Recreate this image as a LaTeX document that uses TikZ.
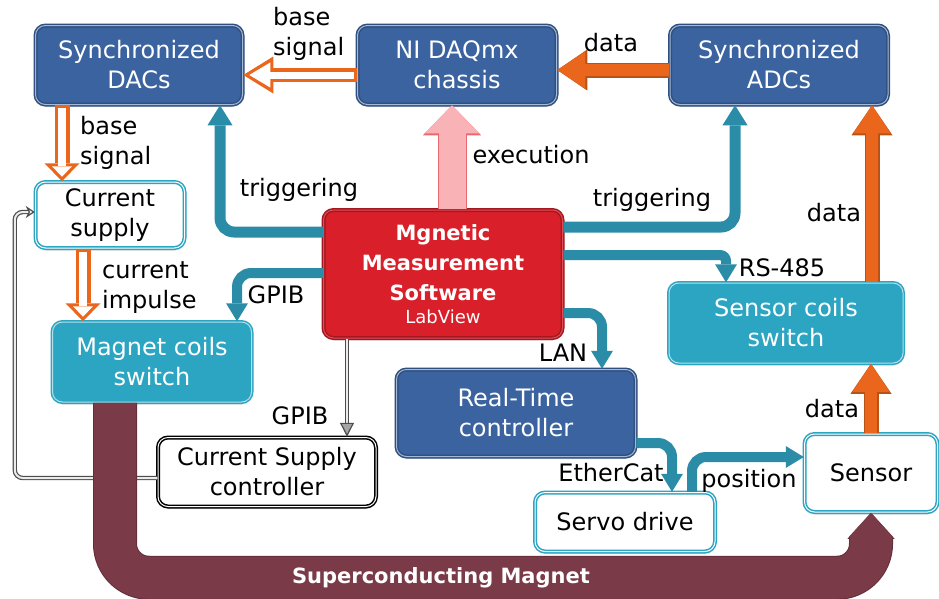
\documentclass[tikz,border=0pt]{standalone}
\usepackage{fontspec}
\setmainfont{DejaVu Sans}
\usetikzlibrary{arrows.meta,positioning,shadows,calc}
\definecolor{dacblue}{HTML}{3A63A0}
\definecolor{coilteal}{HTML}{2CA5C2}
\definecolor{lineteal}{HTML}{2A8CA6}
\definecolor{softred}{HTML}{D9202A}
\definecolor{arroworange}{HTML}{E9661C}
\definecolor{magnetred}{HTML}{7B3A48}
\definecolor{execpink}{HTML}{F9B2B5}
\tikzstyle{every node}=[font=\fontsize{24}{30}\selectfont,align=center,inner sep=0pt]
\tikzstyle{box}=[rectangle,rounded corners=10pt,line width=1.5pt,double distance=1pt,drop shadow={shadow xshift=0pt,shadow yshift=-2.5pt,opacity=0.25}]
\tikzstyle{bluebox}=[box,fill=dacblue,draw=dacblue!80!black,double=dacblue!45!white,text=white]
\tikzstyle{coilbox}=[box,fill=coilteal,draw=coilteal,double=coilteal!35!white,text=white]
\tikzstyle{whitebox}=[box,fill=white,draw=coilteal,double=white]
\tikzstyle{blackbox}=[box,fill=white,draw=black,double=white]
\tikzstyle{softbox}=[box,fill=softred,draw=softred!75!black,double=softred!80!white,text=white,font=\bfseries\fontsize{21}{30}\selectfont]
\tikzstyle{link}=[draw=lineteal,line width=10pt,rounded corners=14pt,-{Triangle[width=22pt,length=18pt,line width=0pt]}]
\tikzstyle{trigger}=[link,line width=11pt,-{Triangle[width=25pt,length=20pt,line width=0pt]}]
\tikzstyle{dataarrow}=[draw=arroworange,line width=12pt,-{Triangle[width=37pt,length=28pt,line width=0pt]},preaction={draw=arroworange!80!black,line width=15pt,-{Triangle[width=41pt,length=30pt,line width=0pt]}}]
\tikzstyle{hollowarrow}=[draw=arroworange,line width=14pt,-{Triangle[width=37pt,length=30pt,line width=0pt]},postaction={draw=white,line width=7pt,shorten <=3pt,shorten >=6pt,-{Triangle[width=25pt,length=21pt,line width=0pt]}}]
\tikzstyle{hollowdown}=[draw=arroworange,line width=15pt,-{Triangle[width=35pt,length=18pt,line width=0pt]},postaction={draw=white,line width=8pt,shorten <=3pt,shorten >=4.5pt,-{Triangle[width=20pt,length=10.5pt,line width=0pt]}}]
\tikzstyle{execarrow}=[draw=execpink,line width=27pt,-{Triangle[width=54pt,length=28pt,line width=0pt]},preaction={draw=softred!50!execpink,line width=29pt,-{Triangle[width=58pt,length=30pt,line width=0pt]}}]
\tikzstyle{thinarrow}=[draw=black!70,double=black!8,double distance=2pt,line width=1.2pt]
\tikzstyle{magnetband}=[draw=magnetred,line width=42pt,rounded corners=34pt,-{Triangle[width=44pt,length=24pt,line width=0pt]},preaction={draw=magnetred!80!black,line width=44pt,-{Triangle[width=47pt,length=26pt,line width=0pt]}}]

\begin{document}
\begin{tikzpicture}[x=1pt,y=-1pt]
\useasboundingbox (0,0) rectangle (939,598);

% boxes
\node[bluebox,minimum width=207pt,minimum height=79pt] (dacs) at (139,65) {Synchronized\\DACs};
\node[bluebox,minimum width=199pt,minimum height=79pt] (daq) at (457,65) {NI DAQmx\\chassis};
\node[bluebox,minimum width=218pt,minimum height=79pt] (adcs) at (779,65) {Synchronized\\ADCs};
\node[whitebox,minimum width=149pt,minimum height=66pt] (cs) at (110,215) {Current\\supply};
\node[coilbox,minimum width=199pt,minimum height=80pt] (mcs) at (152,362) {Magnet coils\\switch};
\node[softbox,minimum width=239pt,minimum height=128pt] (soft) at (443,274) {Mgnetic\\Measurement\\Software\\[-7pt]{\mdseries\fontsize{18}{22}\selectfont LabView}};
\node[coilbox,minimum width=234pt,minimum height=80pt] (scs) at (786,323) {Sensor coils\\switch};
\node[bluebox,minimum width=239pt,minimum height=87pt] (rt) at (516,413) {Real-Time\\controller};
\node[blackbox,minimum width=218pt,minimum height=69pt] (csc) at (267,472) {Current Supply\\controller};
\node[whitebox,minimum width=180pt,minimum height=59pt] (servo) at (625,522) {Servo drive};
\node[whitebox,minimum width=133pt,minimum height=78pt] (sensor) at (871,473) {Sensor};

% teal links
\draw[trigger] ([yshift=42pt]soft.west) -| ([xshift=81pt]dacs.south);
\draw[trigger] ([yshift=47pt]soft.east) -| ([xshift=-44pt]adcs.south);
\draw[link] ([yshift=1pt]soft.west) -| ([xshift=85pt]mcs.north);
\draw[link,rounded corners=6pt] ([yshift=19pt]soft.east) -| ([xshift=-60pt]scs.north);
\draw[link] ([yshift=-39pt]soft.east) -| ([xshift=86pt]rt.north);
\draw[link] ([yshift=-30pt]rt.east) -| ([xshift=47pt]servo.north);
\draw[link] ([xshift=67pt]servo.north) |- ([yshift=16pt]sensor.west);

% orange signal arrows
\draw[hollowarrow] ([yshift=-10pt]daq.west) -- ([yshift=-10pt]daq.west -| dacs.east);
\draw[dataarrow] ([yshift=-5pt]adcs.west) -- ([yshift=-5pt]adcs.west -| daq.east);
\draw[hollowdown] ([xshift=-77pt]dacs.south) -- ([xshift=-77pt]dacs.south |- cs.north);
\draw[hollowdown] ([xshift=-27pt]cs.south) -- ([xshift=-27pt]cs.south |- mcs.north);
\draw[dataarrow] (sensor.north) -- (sensor.north |- scs.south);
\draw[dataarrow] ([xshift=86pt]scs.north) -- ([xshift=86pt]scs.north |- adcs.south);
\draw[execarrow] ([xshift=9pt]soft.north) -- ([xshift=9pt]soft.north |- daq.south);

% gpib lines
\draw[thinarrow,-{Triangle[width=14pt,length=14pt,fill=black!35]}] ([xshift=-96pt]soft.south) -- ([xshift=-96pt]soft.south |- csc.north);
\draw[thinarrow,rounded corners=8pt,-{Stealth[open,width=12pt,length=9pt,fill=white]}] ([yshift=-6pt]csc.west) -| ([xshift=-20pt,yshift=3pt]cs.west) -- ([yshift=3pt]cs.west);

% magnet
\draw[magnetband] ([xshift=-37pt]mcs.south) -- ++(0,175) -| (sensor.south);
\node[text=white,font=\bfseries\fontsize{21}{25}\selectfont] (magnet) at (441,578) {Superconducting Magnet};

% labels
\node[anchor=west,align=left] (basesig) at (273,34) {base\\signal};
\node (adcdata) at (611,43) {data};
\node[anchor=west,align=left] (dacsig) at (80,143) {base\\signal};
\node[anchor=west,align=left] (impulse) at (102,288) {current\\impulse};
\node (trigleft) at (299,190) {triggering};
\node (trigright) at (652,200) {triggering};
\node (exec) at (531,155) {execution};
\node (gpibcoil) at (276,295) {GPIB};
\node (rs) at (782,268) {RS-485};
\node (lan) at (563,353) {LAN};
\node (gpibcsc) at (300,416) {GPIB};
\node (ecat) at (611,473) {EtherCat};
\node (pos) at (749,481) {position};
\node (sensordata) at (832,409) {data};
\node (coildata) at (834,213) {data};
\end{tikzpicture}
\end{document}
